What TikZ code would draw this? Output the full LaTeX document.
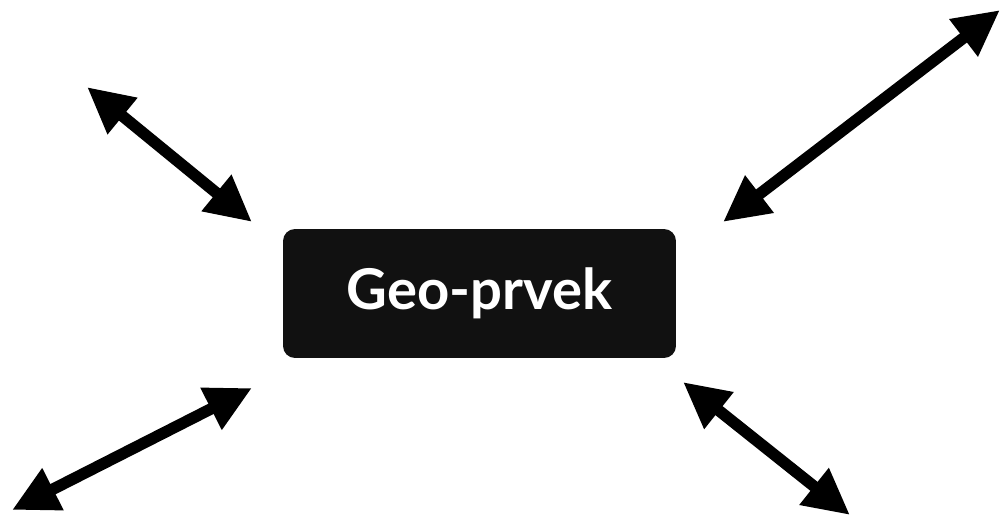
\documentclass[tikz,border=0pt]{standalone}
\usepackage{fontspec}
\setsansfont{Lato}
\usepackage{tikz}
\usetikzlibrary{arrows.meta}

\definecolor{boxfill}{HTML}{111111}
\tikzset{
    featurebox/.style={rectangle, rounded corners=0.24cm, fill=boxfill, text=white,
        minimum width=7.86cm, minimum height=2.58cm, inner sep=0pt,
        font=\sffamily\bfseries\fontsize{32}{38}\selectfont},
    link/.style={line width=0.23cm, {Triangle[length=0.92cm,width=0.88cm]}-{Triangle[length=0.92cm,width=0.88cm]}}
}

\begin{document}
\begin{tikzpicture}[x=0.02cm, y=-0.02cm]
    \useasboundingbox (0,0) rectangle (1001,517);
    \node (feature) at (479.5,293.5) [featurebox] {Geo-prvek};
    \coordinate (tlout) at (87,87);
    \coordinate (tlin) at (252,222);
    \coordinate (trout) at (1000,10);
    \coordinate (trin) at (723,222);
    \coordinate (blout) at (12,510);
    \coordinate (blin) at (252,388);
    \coordinate (brout) at (850,515);
    \coordinate (brin) at (683,382);
    \draw[link] (tlout) -- (tlin);
    \draw[link] (trin) -- (trout);
    \draw[link] (blout) -- (blin);
    \draw[link] (brin) -- (brout); % to bottom right
\end{tikzpicture}
\end{document}
